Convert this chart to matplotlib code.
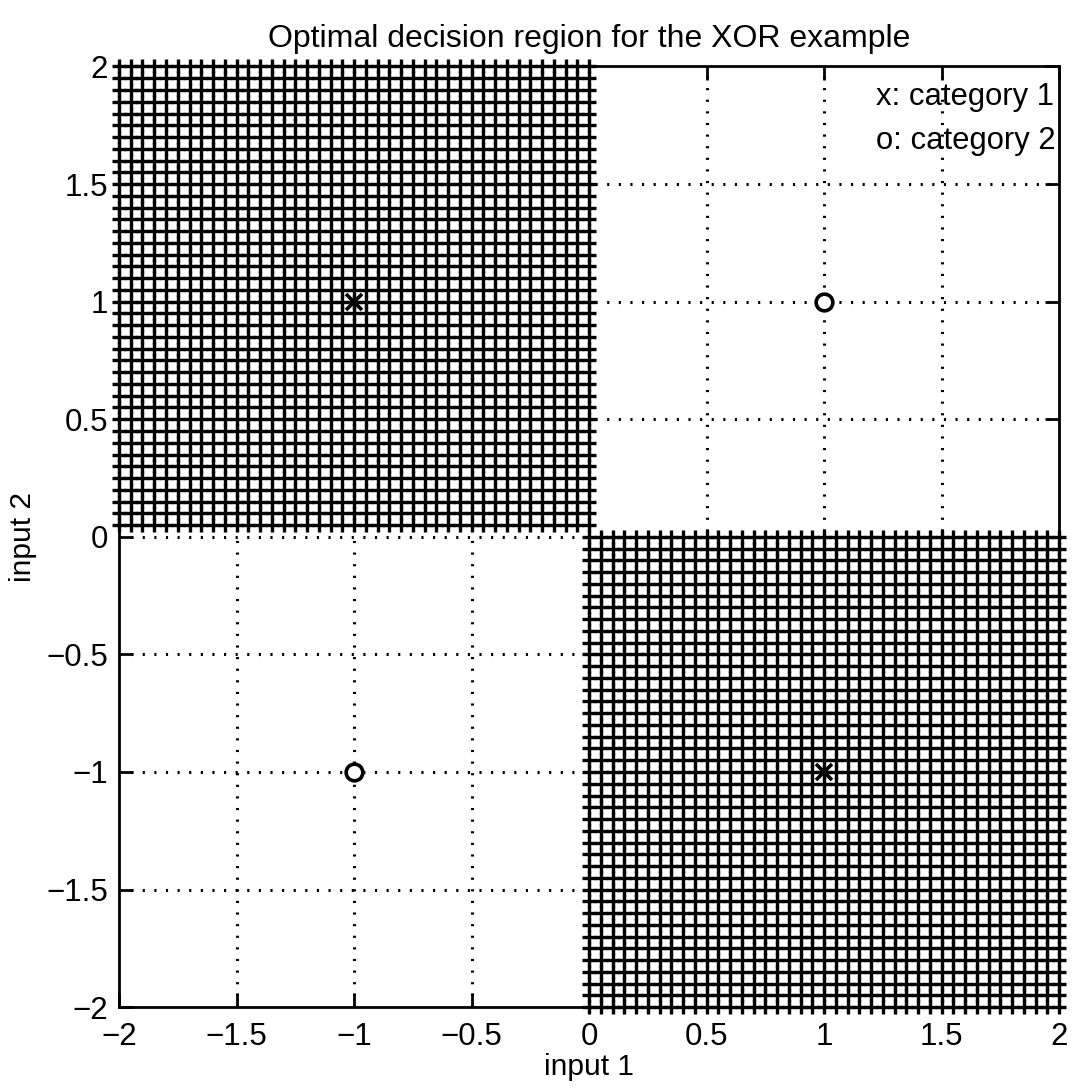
import numpy as np
import matplotlib
matplotlib.use("Agg")
import matplotlib.pyplot as plt

plt.rcParams['font.family'] = ['Liberation Sans', 'DejaVu Sans']

# ---- data ----
cat1_x = [-1, 1]
cat1_y = [1, -1]
cat2_x = [1, -1]
cat2_y = [1, -1]
mesh_step = 0.05
# decision region for category 1: (x range, y range)
region_a_x = (-2.0, 0.0)
region_a_y = (0.05, 2.0)
region_b_x = (0.0, 2.0)
region_b_y = (-2.0, 0.0)
ticks = [-2, -1.5, -1, -0.5, 0, 0.5, 1, 1.5, 2]
tick_labels = ['\u22122', '\u22121.5', '\u22121', '\u22120.5', '0', '0.5', '1', '1.5', '2']
title = "Optimal decision region for the XOR example"
legend_lines = ["x: category 1", "o: category 2"]


def grid_points(xr, yr, step):
    nx = int(round((xr[1] - xr[0]) / step)) + 1
    ny = int(round((yr[1] - yr[0]) / step)) + 1
    xs = np.linspace(xr[0], xr[1], nx)
    ys = np.linspace(yr[0], yr[1], ny)
    X, Y = np.meshgrid(xs, ys)
    return X.ravel(), Y.ravel()


fig = plt.figure(figsize=(10.72, 10.90), dpi=100)
ax = fig.add_axes([0.111, 0.076, 0.877, 0.863])
ax.set_xlim(-2, 2)
ax.set_ylim(-2, 2)

# dotted grid
for t in ticks[1:-1]:
    ax.plot([t, t], [-2, 2], color='black', lw=2.2, dashes=(0.7, 3.1), zorder=1)
    ax.plot([-2, 2], [t, t], color='black', lw=2.2, dashes=(0.7, 3.1), zorder=1)

# decision region mesh made of '+' markers
for xr, yr in [(region_a_x, region_a_y), (region_b_x, region_b_y)]:
    gx, gy = grid_points(xr, yr, mesh_step)
    ax.plot(gx, gy, linestyle='none', marker='+', markersize=10.5,
            markeredgewidth=2.4, color='black', clip_on=False, zorder=3)

# category markers
ax.plot(cat1_x, cat1_y, linestyle='none', marker='x', markersize=12,
        markeredgewidth=2.6, color='black', zorder=4)
ax.plot(cat2_x, cat2_y, linestyle='none', marker='o', markersize=12,
        markeredgewidth=2.6, markerfacecolor='white', color='black', zorder=4)

ax.text(1.22, 1.87, legend_lines[0], fontsize=22.3, va='center', ha='left', zorder=5)
ax.text(1.22, 1.685, legend_lines[1], fontsize=22.3, va='center', ha='left', zorder=5)

ax.set_xticks(ticks)
ax.set_xticklabels(tick_labels)
ax.set_yticks(ticks)
ax.set_yticklabels(tick_labels)
ax.tick_params(direction='in', length=10, width=2, labelsize=22.5,
               top=True, right=True)
ax.tick_params(axis='x', pad=11)
ax.tick_params(axis='y', pad=8)
for s in ax.spines.values():
    s.set_linewidth(2)

ax.set_title(title, fontsize=23, pad=14)
ax.set_xlabel("input 1", fontsize=21.5)
ax.set_ylabel("input 2", fontsize=21.5)
ax.xaxis.set_label_coords(0.5, -0.049)
ax.yaxis.set_label_coords(-0.087, 0.5)

fig.savefig("out.png", dpi=100, facecolor='white')
